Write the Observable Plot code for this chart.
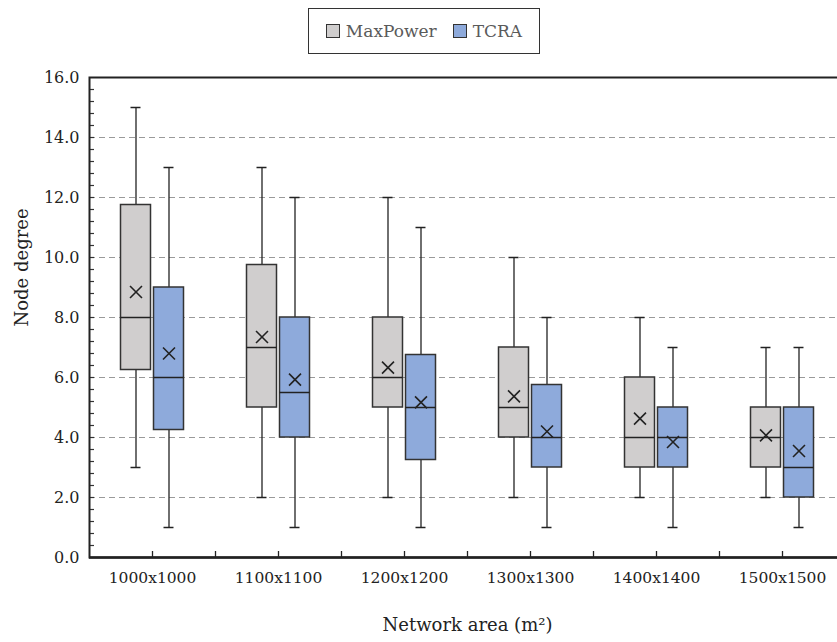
<!DOCTYPE html>
<html>
<head>
<meta charset="utf-8">
<script src="https://cdn.jsdelivr.net/npm/d3@7"></script>
<script src="https://cdn.jsdelivr.net/npm/@observablehq/plot@0.6"></script>
<style>
  html, body { margin: 0; padding: 0; overflow: hidden; background: #fff; }
  #legend { position: relative; width: 837px; height: 62px; font-family: "DejaVu Serif", serif; }
  #legend .box { position: absolute; left: 308px; top: 8px; width: 230px; height: 44px;
    border: 1.5px solid #333; display: flex; align-items: center; justify-content: center;
    font-size: 17px; color: #5a5a5a; }
  #legend .sw { display: inline-block; width: 12px; height: 12px; border: 1.5px solid #333; margin-right: 6px; }
  #legend .item { display: flex; align-items: center; }
  #legend .item + .item { margin-left: 16px; }
  #chart { width: 845px; height: 580px; }
  #chart svg { max-width: none !important; display: block; }
</style>
</head>
<body>
<div id="legend"></div>
<div id="chart"></div>
<script>
const categories = ["1000x1000", "1100x1100", "1200x1200", "1300x1300", "1400x1400", "1500x1500"];
const seriesNames = ["MaxPower", "TCRA"];
const seriesColors = ["#d0cece", "#8eaadb"];

const maxPowerMin    = [3, 2, 2, 2, 2, 2];
const maxPowerQ1     = [6.25, 5, 5, 4, 3, 3];
const maxPowerMedian = [8, 7, 6, 5, 4, 4];
const maxPowerQ3     = [11.75, 9.75, 8, 7, 6, 5];
const maxPowerMax    = [15, 13, 12, 10, 8, 7];
const maxPowerMean   = [8.85, 7.35, 6.33, 5.37, 4.63, 4.07];

const tcraMin    = [1, 1, 1, 1, 1, 1];
const tcraQ1     = [4.25, 4, 3.25, 3, 3, 2];
const tcraMedian = [6, 5.5, 5, 4, 4, 3];
const tcraQ3     = [9, 8, 6.75, 5.75, 5, 5];
const tcraMax    = [13, 12, 11, 8, 7, 7];
const tcraMean   = [6.8, 5.93, 5.17, 4.2, 3.85, 3.55];

const yTicks = [0, 2, 4, 6, 8, 10, 12, 14, 16];
const yMinorStep = 0.4;

// build table
const stats = {
  MaxPower: {min: maxPowerMin, q1: maxPowerQ1, median: maxPowerMedian, q3: maxPowerQ3, max: maxPowerMax, mean: maxPowerMean},
  TCRA: {min: tcraMin, q1: tcraQ1, median: tcraMedian, q3: tcraQ3, max: tcraMax, mean: tcraMean}
};
const rows = [];
categories.forEach((c, i) => {
  seriesNames.forEach(s => {
    const st = stats[s];
    rows.push({category: c, series: s, min: st.min[i], q1: st.q1[i], median: st.median[i], q3: st.q3[i], max: st.max[i], mean: st.mean[i]});
  });
});
const minorTicks = d3.range(1, Math.round(16 / yMinorStep)).map(i => Math.round(i * yMinorStep * 10) / 10);

// legend
const lg = document.getElementById("legend");
const box = document.createElement("div");
box.className = "box";
seriesNames.forEach((s, i) => {
  const it = document.createElement("span");
  it.className = "item";
  const sw = document.createElement("span");
  sw.className = "sw";
  sw.style.background = seriesColors[i];
  it.appendChild(sw);
  it.appendChild(document.createTextNode(s));
  box.appendChild(it);
});
lg.appendChild(box);

// layout
const W = 845, H = 580, ML = 89, MR = 0, MT = 15, MB = 85;
const plotW = W - ML - MR, plotH = H - MT - MB;
const bw = plotW / categories.length;
const boxW = 30, gap = 3;
const offset = {MaxPower: -(boxW + gap) / 2, TCRA: (boxW + gap) / 2};
function insets(s, w) {
  const c = bw / 2 + offset[s];
  return {insetLeft: c - w / 2, insetRight: bw - (c + w / 2)};
}
const ink = "#222";
const tickLen = 6;

const marks = [
  Plot.gridY(yTicks.filter(t => t > 0), {stroke: "#9a9a9a", strokeOpacity: 1, strokeWidth: 1, strokeDasharray: "6,4"})
];
seriesNames.forEach((s, i) => {
  const d = rows.filter(r => r.series === s);
  marks.push(
    Plot.ruleX(d, {x: "category", y1: "min", y2: "max", dx: offset[s], stroke: ink, strokeWidth: 1.3}),
    Plot.tickY(d, {x: "category", y: "min", ...insets(s, 10), stroke: ink, strokeWidth: 1.5}),
    Plot.tickY(d, {x: "category", y: "max", ...insets(s, 10), stroke: ink, strokeWidth: 1.5}),
    Plot.barY(d, {x: "category", y1: "q1", y2: "q3", fill: seriesColors[i], stroke: "#333", strokeWidth: 1.5, ...insets(s, boxW)}),
    Plot.tickY(d, {x: "category", y: "median", ...insets(s, boxW), stroke: ink, strokeWidth: 1.5}),
    Plot.dot(d, {x: "category", y: "mean", symbol: "times", r: 5.5, stroke: ink, strokeWidth: 1.6, dx: offset[s]})
  );
});
marks.push(
  // inward minor ticks on the y axis
  Plot.tickY(minorTicks, {y: d => d, insetRight: plotW - tickLen + 1, stroke: "#333", strokeWidth: 1.2}),
  // inward ticks on the x axis: band centres and band boundaries
  Plot.tickX(categories, {x: d => d, insetTop: plotH - tickLen, stroke: ink, strokeWidth: 1.3}),
  Plot.tickX(categories, {x: d => d, insetTop: plotH - tickLen, dx: bw / 2, stroke: ink, strokeWidth: 1.3}),
  Plot.frame({stroke: ink, strokeWidth: 2}),
  Plot.ruleY([0], {stroke: ink, strokeWidth: 2.6}),
  Plot.axisY({ticks: yTicks, tickSize: 0, tickPadding: 10, tickFormat: d => d.toFixed(1), label: null, fill: ink, fontSize: 16}),
  Plot.axisX({tickSize: 0, tickPadding: 14, label: null, fill: ink, fontSize: 15.5}),
  Plot.text(["Node degree"], {text: d => d, frameAnchor: "left", dx: -67, dy: 9, rotate: -90, fontSize: 18, fill: ink}),
  Plot.text(["Network area (m²)"], {text: d => d, frameAnchor: "bottom", dy: 73, fontSize: 18, fill: ink})
);

const chart = Plot.plot({
  width: W, height: H,
  marginLeft: ML, marginRight: MR, marginTop: MT, marginBottom: MB,
  style: {fontFamily: "DejaVu Serif, serif", fontSize: "16px", color: ink, background: "#fff", overflow: "visible", maxWidth: "none"},
  x: {type: "band", domain: categories, padding: 0, axis: null},
  y: {domain: [0, 16], axis: null},
  marks
});
chart.style.maxWidth = "none";
chart.style.width = W + "px";
chart.style.height = H + "px";
document.getElementById("chart").appendChild(chart);
</script>
</body>
</html>
